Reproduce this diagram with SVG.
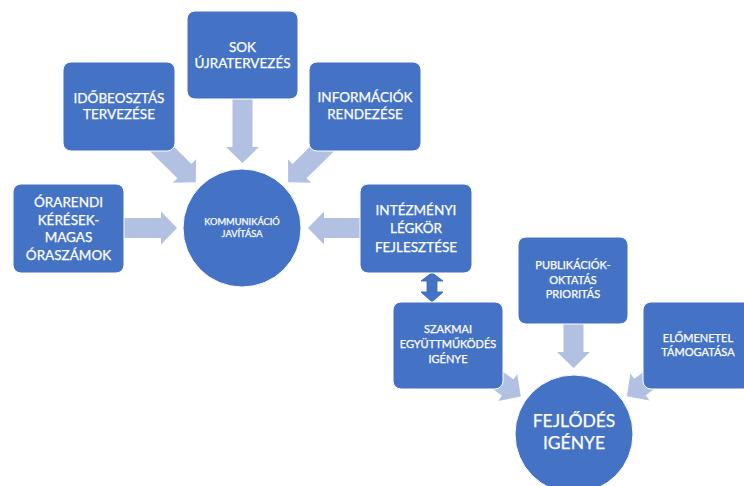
<svg xmlns="http://www.w3.org/2000/svg" xmlns:xlink="http://www.w3.org/1999/xlink" width="744" height="486" viewBox="0 0 744 486">
<style>
.box{fill:#4472C4;stroke:#ffffff;stroke-width:1}
.circ{fill:#4472C4;stroke:#ffffff;stroke-width:1}
.arr{fill:#B2C0E2}
.dbl{fill:#4472C4;stroke:#3A62AA;stroke-width:0.8}
text{font-family:Lato,"Open Sans","Liberation Sans",sans-serif;fill:#ffffff;stroke:#ffffff;stroke-width:0.25;text-anchor:middle}
.t{font-size:13.5px}
.s{font-size:11px}
.xs{font-size:9.3px}
.l{font-size:17.5px}
</style>
<defs>
<path id="arrow" d="M-70,-10 H-16 V-16.5 L0,0 L-16,16.5 V10 H-70 Z"/>
</defs>
<rect width="744" height="486" fill="#ffffff"/>
<g id="connectors">
<use xlink:href="#arrow" class="arr" transform="translate(242.5,163) rotate(90)"/>
<use xlink:href="#arrow" class="arr" transform="translate(177,228)"/>
<use xlink:href="#arrow" class="arr" transform="translate(308,228) rotate(180)"/>
<use xlink:href="#arrow" class="arr" transform="translate(195.8,182.3) rotate(44.6)"/>
<use xlink:href="#arrow" class="arr" transform="translate(288.2,182.3) rotate(135.4)"/>
<use xlink:href="#arrow" class="arr" transform="translate(573.5,368) rotate(90)"/>
<use xlink:href="#arrow" class="arr" transform="translate(520.8,396.6) rotate(35.1)"/>
<use xlink:href="#arrow" class="arr" transform="translate(626.9,396.3) rotate(144.5)"/>
<path class="dbl" d="M432,272.5 L443,281 H437 V292 H443 L432,302 L421,292 H427 V281 H421 Z"/>
</g>
<g id="n-sok">
<rect class="box" x="187" y="11" width="111" height="88" rx="8"/>
<text class="t" x="242.5" y="52">SOK</text>
<text class="t" x="242.5" y="68">ÚJRATERVEZÉS</text>
</g>
<g id="n-idobeosztas">
<rect class="box" x="63" y="62" width="112" height="89" rx="8"/>
<text class="t" x="119" y="103">IDŐBEOSZTÁS</text>
<text class="t" x="119" y="119">TERVEZÉSE</text>
</g>
<g id="n-informaciok">
<rect class="box" x="309" y="62" width="112" height="89" rx="8"/>
<text class="t" x="365" y="102">INFORMÁCIÓK</text>
<text class="t" x="365" y="119">RENDEZÉSE</text>
</g>
<g id="n-orarendi">
<rect class="box" x="13" y="184" width="111" height="89" rx="8"/>
<text class="t" x="68.5" y="207">ÓRARENDI</text>
<text class="t" x="68.5" y="224.5">KÉRÉSEK-</text>
<text class="t" x="68.5" y="242">MAGAS</text>
<text class="t" x="68.5" y="259.5">ÓRASZÁMOK</text>
</g>
<g id="n-kommunikacio">
<circle class="circ" cx="242" cy="228" r="59"/>
<text class="xs" x="242" y="225">KOMMUNIKÁCIÓ</text>
<text class="xs" x="242" y="237">JAVÍTÁSA</text>
</g>
<g id="n-intezmenyi">
<rect class="box" x="360" y="184" width="112" height="89" rx="8"/>
<text class="t" x="416" y="215">INTÉZMÉNYI</text>
<text class="t" x="416" y="233">LÉGKÖR</text>
<text class="t" x="416" y="251.5">FEJLESZTÉSE</text>
</g>
<g id="n-publikaciok">
<rect class="box" x="518" y="237" width="110" height="87" rx="8"/>
<text class="s" x="573" y="269">PUBLIKÁCIÓK-</text>
<text class="s" x="573" y="283.5">OKTATÁS</text>
<text class="s" x="573" y="298">PRIORITÁS</text>
</g>
<g id="n-szakmai">
<rect class="box" x="393" y="302" width="110" height="87" rx="8"/>
<text class="s" x="448" y="333">SZAKMAI</text>
<text class="s" x="448" y="348">EGYÜTTMŰKÖDÉS</text>
<text class="s" x="448" y="363">IGÉNYE</text>
</g>
<g id="n-elomenetel">
<rect class="box" x="643" y="302" width="110" height="87" rx="8"/>
<text class="s" x="698" y="342">ELŐMENETEL</text>
<text class="s" x="698" y="356">TÁMOGATÁSA</text>
</g>
<g id="n-fejlodes">
<circle class="circ" cx="574" cy="434" r="59"/>
<text class="l" x="574" y="427">FEJLŐDÉS</text>
<text class="l" x="574" y="449">IGÉNYE</text>
</g>
</svg>
